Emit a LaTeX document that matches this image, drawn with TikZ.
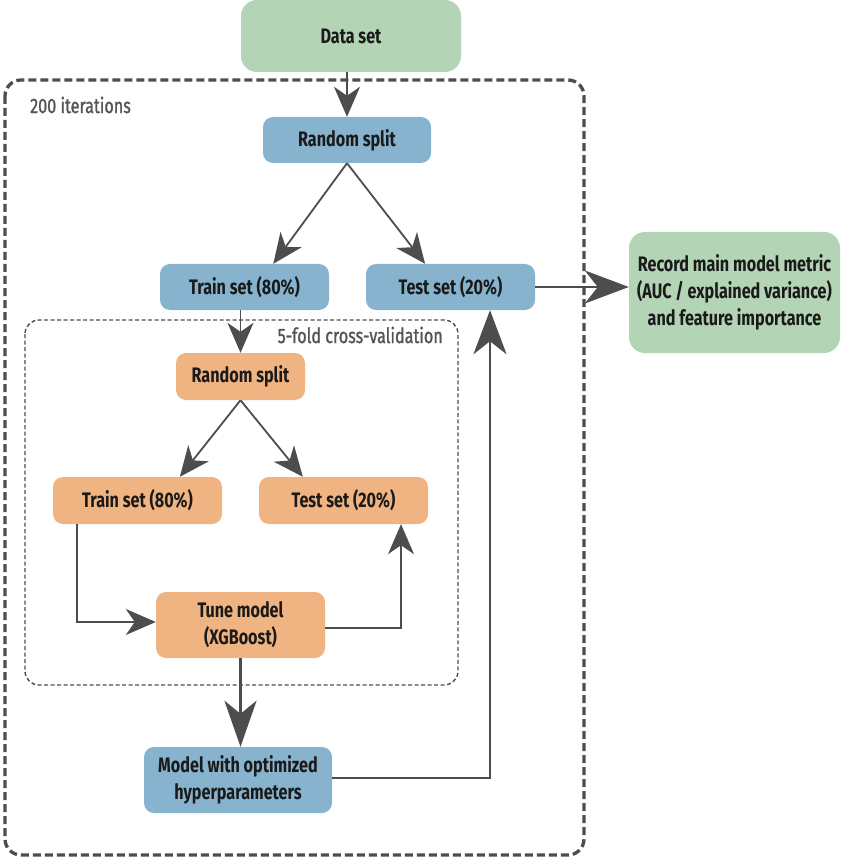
\documentclass[tikz,border=0pt]{standalone}
\usepackage{fontspec}
\setmainfont{Fira Sans}[FakeStretch=0.77]
\newfontfamily\labfont{Fira Sans}[FakeStretch=0.77, FakeBold=1.2]
\usetikzlibrary{arrows.meta,calc}
\definecolor{cgreen}{HTML}{B3D4B5}
\definecolor{cblue}{HTML}{87B3CF}
\definecolor{corange}{HTML}{F0B482}
\definecolor{cline}{HTML}{4D4D4D}
\definecolor{clabel}{HTML}{555555}
\definecolor{ctext}{HTML}{1A1A1A}
\tikzset{
  box/.style={rounded corners=10pt, inner sep=0pt, align=center, text=ctext,
    font=\fontsize{21}{27}\selectfont\bfseries},
  gbox/.style={box, fill=cgreen, rounded corners=16pt},
  bbox/.style={box, fill=cblue},
  obox/.style={box, fill=corange},
  thin arrow/.style={draw=cline, line width=1.8pt,
    -{Stealth[length=30pt,width=26pt,inset=9pt]}},
  thick arrow/.style={draw=cline, line width=2.8pt,
    -{Stealth[length=44pt,width=33pt,inset=13pt]}},
  big arrow/.style={draw=cline, line width=3.5pt,
    -{Stealth[length=46pt,width=32pt,inset=13pt]}},
  outer frame/.style={draw=cline, line width=3.3pt, dash pattern=on 8pt off 4pt, rounded corners=16pt},
  inner frame/.style={draw=cline, line width=1.4pt, dash pattern=on 4pt off 2.5pt, rounded corners=14pt},
  frame label/.style={text=clabel, font=\fontsize{21}{25}\labfont, inner sep=0pt},
}
\begin{document}
\begin{tikzpicture}[x=1pt,y=-1pt]
\useasboundingbox (0,0) rectangle (841,858);
% frames
\draw[outer frame] (5,80) rectangle (584,855);
\draw[inner frame] (25,320) rectangle (458,685);
\node[frame label, anchor=west] (lab200) at (30,105) {200 iterations};
\node[frame label, anchor=east] (labcv) at (443,335) {5-fold cross-validation};
% nodes
\node[gbox, minimum width=220pt, minimum height=72pt] (data) at (351,36) {Data set};
\node[bbox, minimum width=168pt, minimum height=46pt] (rs1) at (347,140) {Random split};
\node[bbox, minimum width=169pt, minimum height=46pt] (tr1) at (244.5,287) {Train set (80\%)};
\node[bbox, minimum width=169pt, minimum height=46pt] (te1) at (450.5,287) {Test set (20\%)};
\node[gbox, minimum width=211pt, minimum height=121pt] (rec) at (734.5,292.5) {Record main model metric\\(AUC / explained variance)\\and feature importance};
\node[obox, minimum width=129pt, minimum height=47pt] (rs2) at (240.5,376.5) {Random split};
\node[obox, minimum width=169pt, minimum height=47pt] (tr2) at (137.5,500.5) {Train set (80\%)};
\node[obox, minimum width=169pt, minimum height=47pt] (te2) at (343.5,500.5) {Test set (20\%)};
\node[obox, minimum width=169pt, minimum height=66pt] (tune) at (240.5,625) {Tune model\\(XGBoost)};
\node[bbox, minimum width=188pt, minimum height=66pt] (model) at (238,780) {Model with optimized\\hyperparameters};
% connectors
\draw[thin arrow] (data.south -| rs1.north) -- (rs1.north);
\draw[thin arrow] (rs1.south) -- ($(tr1.north west)!0.67!(tr1.north east)$);
\draw[thin arrow] (rs1.south) -- ($(te1.north west)!0.35!(te1.north east)$);
\draw[thin arrow] (tr1.south -| rs2.north) -- (rs2.north);
\draw[thick arrow] (te1.east) -- (rec.west |- te1.east);
\draw[thin arrow] (rs2.south) -- ($(tr2.north west)!0.75!(tr2.north east)$);
\draw[thin arrow] (rs2.south) -- ($(te2.north west)!0.26!(te2.north east)$);
\coordinate (trturn) at (77,622);
\draw[thin arrow] (tr2.south west -| trturn) -- (trturn) -- (tune.west |- trturn);
\coordinate (tuneout) at ($(tune.east)+(0,3)$);
\coordinate (teturn) at (401,628);
\draw[thin arrow] (tuneout) -- (teturn) -- (te2.south -| teturn);
\draw[big arrow] (tune.south) -- (tune.south |- model.north);
\coordinate (modout) at ($(model.east)+(0,-2)$);
\coordinate (mturn) at (490,778);
\draw[thick arrow] (modout) -- (mturn) -- (te1.south -| mturn);
\end{tikzpicture}
\end{document}
